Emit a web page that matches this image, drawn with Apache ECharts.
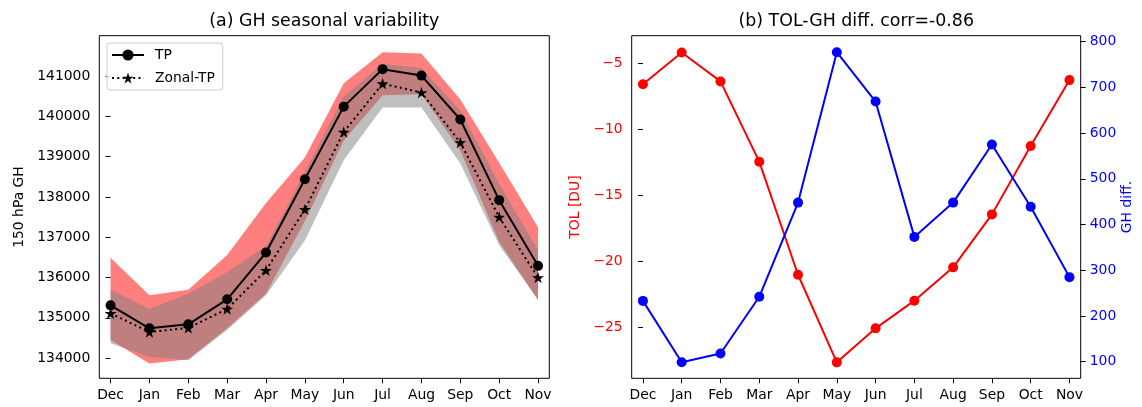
<!DOCTYPE html>
<html>
<head>
<meta charset="utf-8">
<script src="https://cdn.jsdelivr.net/npm/echarts@6/dist/echarts.min.js"></script>
<style>
html,body{margin:0;padding:0;background:#fff;}
#chart{width:1142px;height:407px;}
</style>
</head>
<body>
<div id="chart"></div>
<script>
// ---- data ----
const months = ['Dec','Jan','Feb','Mar','Apr','May','Jun','Jul','Aug','Sep','Oct','Nov'];
const tp        = [135310,134740,134840,135460,136620,138440,140240,141170,141010,139920,137920,136290];
const zonalTp   = [135110,134650,134750,135220,136180,137690,139610,140810,140590,139350,137500,136000];
const tpUpper   = [136490,135560,135700,136560,137850,138980,140820,141590,141560,140420,138850,137250];
const tpLower   = [134450,133870,133970,134740,135600,137400,139400,140520,140550,139150,136880,135440];
const zonalUpper= [135700,135220,135600,136140,136780,138620,140500,141300,141200,140150,138330,136680];
const zonalLower= [134370,134030,133950,134700,135560,136920,138910,140220,140220,138830,136800,135450];
const tol       = [-6.59,-4.17,-6.37,-12.46,-21.04,-27.69,-25.11,-23.01,-20.48,-16.46,-11.27,-6.27];
const ghDiff    = [233,99,118,242,448,777,669,373,448,575,439,285];
const ghTicks   = [134000,135000,136000,137000,138000,139000,140000,141000];
const tolTicks  = [-25,-20,-15,-10,-5];
const diffTicks = [100,200,300,400,500,600,700,800];

// ---- helpers ----
const FONT = 'DejaVu Sans';
const FS = 13.9;
const idx = months.map((m,i)=>i);
const pts = arr => arr.map((v,i)=>[i,v]);
const minus = v => (v < 0 ? '\u2212' + Math.abs(v) : String(v));
const star = 'path://M0,-1L0.2245,-0.309L0.951,-0.309L0.363,0.118L0.588,0.809L0,0.382L-0.588,0.809L-0.363,0.118L-0.951,-0.309L-0.2245,-0.309Z';

function xAxis(g){
  return {
    type:'value', gridIndex:g, min:-0.29, max:11.29,
    axisLine:{show:false}, splitLine:{show:false},
    axisTick:{show:true, length:5, customValues:idx, lineStyle:{color:'#000', width:1}},
    axisLabel:{customValues:idx, formatter:v=>months[Math.round(v)], margin:10,
      color:'#000', fontFamily:FONT, fontSize:FS}
  };
}
function yAxis(g, pos, min, max, ticks, color, name, gap){
  return {
    type:'value', gridIndex:g, position:pos, min:min, max:max,
    axisLine:{show:false}, splitLine:{show:false},
    axisTick:{show:true, length:5, customValues:ticks, lineStyle:{color:'#000', width:1}},
    axisLabel:{customValues:ticks, formatter:minus, margin:9,
      color:color, fontFamily:FONT, fontSize:FS},
    name:name, nameLocation:'middle', nameRotate:90, nameGap:gap,
    nameTextStyle:{color:color, fontFamily:FONT, fontSize:FS}
  };
}
function band(lower, upper, fill, z){
  return {
    type:'custom', xAxisIndex:0, yAxisIndex:0, silent:true, z:z,
    data: lower.map((v,i)=>[i, v, upper[i]]),
    encode:{x:0, y:[1,2]},
    renderItem:function(params, api){
      if (params.dataIndex !== 0) return null;
      const top = upper.map((v,i)=>api.coord([i, v]));
      const bot = lower.map((v,i)=>api.coord([i, v])).reverse();
      return {type:'polygon', shape:{points: top.concat(bot)}, style:{fill:fill}};
    }
  };
}

const option = {
  animation:false,
  backgroundColor:'#fff',
  title:[
    {text:'(a) GH seasonal variability', left:324.3, textAlign:'center', top:13, padding:0,
      textStyle:{fontFamily:FONT, fontSize:17.4, fontWeight:'normal', color:'#000'}},
    {text:'(b) TOL-GH diff. corr=-0.86', left:856.2, textAlign:'center', top:13, padding:0,
      textStyle:{fontFamily:FONT, fontSize:17.4, fontWeight:'normal', color:'#000'}}
  ],
  legend:{
    data:['TP','Zonal-TP'], orient:'vertical', left:107, top:43,
    padding:[5,8,5,4], itemGap:9, itemWidth:32, itemHeight:14,
    borderColor:'#cccccc', borderWidth:1, borderRadius:3,
    backgroundColor:'rgba(255,255,255,0.8)',
    textStyle:{fontFamily:FONT, fontSize:FS, color:'#000', padding:[0,0,0,6]}
  },
  grid:[
    {left:99.3, top:35.7, width:450, height:342.6, show:true, borderColor:'#000', borderWidth:1, backgroundColor:'transparent'},
    {left:631.7, top:35.7, width:449, height:342.6, show:true, borderColor:'#000', borderWidth:1, backgroundColor:'transparent'}
  ],
  xAxis:[xAxis(0), xAxis(1)],
  yAxis:[
    yAxis(0,'left',133500,142000,ghTicks,'#000','150 hPa GH',73),
    yAxis(1,'left',-28.9,-2.9,tolTicks,'#ff0000','TOL [DU]',49),
    yAxis(1,'right',63.7,813.1,diffTicks,'#0000ff','GH diff.',39)
  ],
  series:[
    band(tpLower, tpUpper, 'rgba(255,0,0,0.5)', 1),
    band(zonalLower, zonalUpper, 'rgba(128,128,128,0.5)', 2),
    {type:'line', name:'TP', xAxisIndex:0, yAxisIndex:0, data:pts(tp),
      symbol:'circle', symbolSize:10, color:'#000',
      itemStyle:{color:'#000'}, lineStyle:{color:'#000', width:2}, z:4},
    {type:'line', name:'Zonal-TP', xAxisIndex:0, yAxisIndex:0, data:pts(zonalTp),
      symbol:star, symbolSize:12, symbolKeepAspect:true, color:'#000',
      itemStyle:{color:'#000'}, lineStyle:{color:'#000', width:2, type:[2,3.3], cap:'butt'}, z:3},
    {type:'line', name:'TOL', xAxisIndex:1, yAxisIndex:1, data:pts(tol),
      symbol:'circle', symbolSize:10, itemStyle:{color:'#ff0000'}, lineStyle:{color:'#ff0000', width:2}, z:3},
    {type:'line', name:'GH diff.', xAxisIndex:1, yAxisIndex:2, data:pts(ghDiff),
      symbol:'circle', symbolSize:10, itemStyle:{color:'#0000ff'}, lineStyle:{color:'#0000ff', width:2}, z:4}
  ]
};
const chart = echarts.init(document.getElementById('chart'), null, {renderer:'canvas'});
chart.setOption(option);
</script>
</body>
</html>
